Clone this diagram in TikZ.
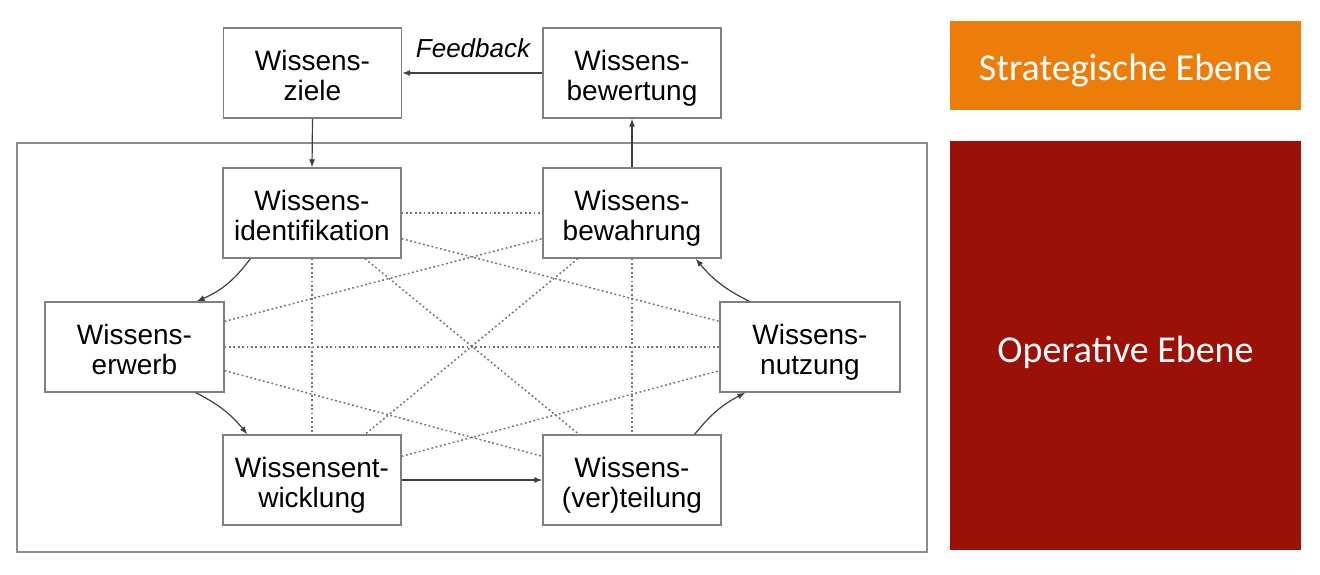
\documentclass[tikz,border=0pt]{standalone}
\usepackage{fontspec}
\setmainfont{Liberation Sans}
\newfontfamily\calfont{Carlito}
\usetikzlibrary{arrows.meta,calc}
\definecolor{orangeE}{RGB}{235,125,8}
\definecolor{redE}{RGB}{155,17,7}
\newcommand{\kt}[2]{\rule{0pt}{31pt}#1\\#2\rule[-7pt]{0pt}{7pt}}
\tikzset{
  kbox/.style={draw=black!50, line width=1.3pt, fill=white, minimum width=178pt, minimum height=90pt,
    inner sep=0pt, align=center, font=\fontsize{28}{30}\selectfont},
  flow/.style={draw=black!75, line width=1.2pt, -{Latex[length=8pt,width=6pt]}},
  rel/.style={draw=black!55, line width=1.5pt, dash pattern=on 1.8pt off 2.6pt},
  level/.style={draw=none, inner sep=0pt, text=white, font=\calfont\fontsize{38}{40}\selectfont}
}
\begin{document}
\begin{tikzpicture}[x=1pt,y=-1pt]
\useasboundingbox (0,0) rectangle (1320,574);
% frame of the operative level
\draw[draw=black!45, line width=2pt] (17,143) rectangle (927,552);
% right colour panels
\node[level, fill=orangeE, minimum width=351pt, minimum height=89pt] (strat) at (1125.5,65.5) {};
\node[level, anchor=base] (strattext) at (1125.5,80) {Strategische Ebene};
\node[level, fill=redE, minimum width=351pt, minimum height=409pt] (oper) at (1125.5,345.5) {};
\node[level, anchor=base] (opertext) at (1125.5,362) {Operative Ebene};
% nodes
\node[kbox] (ziele) at (312.5,73) {\kt{Wissens-}{ziele}};
\node[kbox] (bewert) at (632,73) {\kt{Wissens-}{bewertung}};
\node[kbox] (ident) at (312,213) {\kt{Wissens-}{identifikation}};
\node[kbox] (bewahr) at (632,213) {\kt{Wissens-}{bewahrung}};
\node[kbox, minimum width=179pt] (erwerb) at (134.5,347) {\kt{Wissens-}{erwerb}};
\node[kbox, minimum width=180pt] (nutz) at (810,347) {\kt{Wissens-}{nutzung}};
\node[kbox] (entw) at (312,480) {\kt{Wissensent-}{wicklung}};
\node[kbox] (vert) at (632,480) {\kt{Wissens-}{(ver)teilung}};
% dotted relations between nodes
\draw[rel] (ident.east) -- (bewahr.west);
\draw[rel] (erwerb.east) -- (nutz.west);
\draw[rel] (ident.south) -- (entw.north);
\draw[rel] (bewahr.south) -- (vert.north);
\draw[rel] ($(ident.south east)+(0,-20)$) -- ($(nutz.north west)+(0,20)$);
\draw[rel] ($(erwerb.north east)+(0,20)$) -- ($(bewahr.south west)+(0,-20)$);
\draw[rel] ($(erwerb.south east)+(0,-22)$) -- ($(vert.north west)+(0,22)$);
\draw[rel] ($(entw.north east)+(0,22)$) -- ($(nutz.south west)+(0,-22)$);
\draw[rel] ($(ident.south)+(53,0)$) -- ($(vert.north)+(-53,0)$);
\draw[rel] ($(bewahr.south)+(-54,0)$) -- ($(entw.north)+(53,0)$);
% process arrows
\draw[flow] (ziele.south) -- (ident.north);
\draw[flow] (bewahr.north) -- (bewert.south);
\draw[flow] (bewert.west) -- (ziele.east);
\node[anchor=base, font=\itshape\fontsize{26}{28}\selectfont, inner sep=0pt] (fb) at (473,57) {Feedback};
\draw[flow] ($(ident.south west)+(28,0)$) to[bend left=15] ($(erwerb.north east)+(-28,0)$);
\draw[flow] ($(erwerb.south east)+(-29,0)$) to[bend left=12] ($(entw.north west)+(25,0)$);
\draw[flow] (entw.east) -- (vert.west);
\draw[flow] ($(vert.north east)+(-27,0)$) to[bend left=12] ($(nutz.south west)+(26,0)$);
\draw[flow] ($(nutz.north west)+(30,0)$) to[bend left=12] ($(bewahr.south east)+(-26,0)$);
\end{tikzpicture}
\end{document}
